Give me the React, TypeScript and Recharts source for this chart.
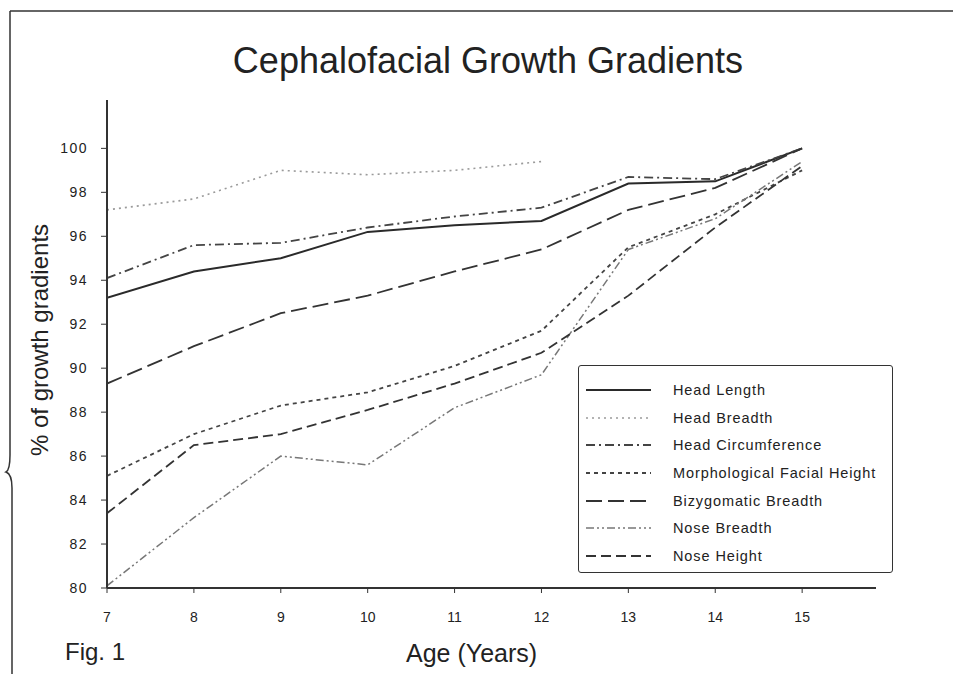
import React from 'react';
import { LineChart, Line, XAxis, YAxis, Legend } from 'recharts';

const ages = [7, 8, 9, 10, 11, 12, 13, 14, 15];
const yTicks = [80, 82, 84, 86, 88, 90, 92, 94, 96, 98, 100];

const headLength = [93.2, 94.4, 95.0, 96.2, 96.5, 96.7, 98.4, 98.5, 100];
const headBreadth = [97.2, 97.7, 99.0, 98.8, 99.0, 99.4, null, null, null];
const headCircumference = [94.1, 95.6, 95.7, 96.4, 96.9, 97.3, 98.7, 98.6, 100];
const morphFacialHeight = [85.1, 87.0, 88.3, 88.9, 90.1, 91.7, 95.5, 97.0, 99.0];
const bizygomaticBreadth = [89.3, 91.0, 92.5, 93.3, 94.4, 95.4, 97.2, 98.2, 100];
const noseBreadth = [80.1, 83.2, 86.0, 85.6, 88.2, 89.7, 95.4, 96.8, 99.4];
const noseHeight = [83.4, 86.5, 87.0, 88.1, 89.3, 90.7, 93.3, 96.4, 99.2];

const seriesNames = [
  'Head Length',
  'Head Breadth',
  'Head Circumference',
  'Morphological Facial Height',
  'Bizygomatic Breadth',
  'Nose Breadth',
  'Nose Height',
];
const seriesKeys = ['hl', 'hb', 'hc', 'mfh', 'bb', 'nb', 'nh'];
const seriesValues = [
  headLength,
  headBreadth,
  headCircumference,
  morphFacialHeight,
  bizygomaticBreadth,
  noseBreadth,
  noseHeight,
];

const seriesStyles = [
  { stroke: '#2a2a2a', dash: undefined as string | undefined, width: 2 },
  { stroke: '#9a9a9a', dash: '2 4', width: 1.6 },
  { stroke: '#444', dash: '9 4 2 4', width: 1.8 },
  { stroke: '#444', dash: '4 4', width: 1.8 },
  { stroke: '#333', dash: '16 6', width: 1.8 },
  { stroke: '#777', dash: '8 3 2 3 2 3', width: 1.5 },
  { stroke: '#333', dash: '10 5', width: 1.8 },
];

const data = ages.map((age, i) => {
  const row: Record<string, number | null> = { age };
  seriesKeys.forEach((k, j) => {
    row[k] = seriesValues[j][i];
  });
  return row;
});

const FONT = '"Liberation Sans", Arial, Helvetica, sans-serif';

const renderLegend = () => (
  <div
    style={{
      width: 315,
      height: 208,
      boxSizing: 'border-box',
      border: '1.5px solid #333',
      borderRadius: 3,
      background: '#fff',
      padding: '10px 0 0 6px',
      fontFamily: FONT,
    }}
  >
    {seriesNames.map((name, i) => (
      <div key={name} style={{ display: 'flex', alignItems: 'center', height: 27.7 }}>
        <svg width={68} height={10} style={{ marginRight: 20 }}>
          <line
            x1={1}
            y1={5}
            x2={66}
            y2={5}
            stroke={seriesStyles[i].stroke}
            strokeWidth={seriesStyles[i].width}
            strokeDasharray={seriesStyles[i].dash}
          />
        </svg>
        <span style={{ fontSize: 14.5, letterSpacing: 0.9, color: '#222' }}>{name}</span>
      </div>
    ))}
  </div>
);

export default function App() {
  return (
    <div style={{ position: 'relative', width: 953, height: 674, background: '#fff', fontFamily: FONT }}>
      <style>{'body{margin:0}'}</style>
      <svg width={953} height={674} style={{ position: 'absolute', left: 0, top: 0 }}>
        <line x1={10} y1={11} x2={953} y2={11} stroke="#333" strokeWidth={1.5} />
        <path d="M10 11 L10 455 Q10 470 6 472 Q12 474 12 488 L12 674" fill="none" stroke="#333" strokeWidth={1.5} />
      </svg>
      <div
        style={{
          position: 'absolute',
          left: 0,
          width: 976,
          top: 41,
          textAlign: 'center',
          fontSize: 36,
          lineHeight: '40px',
          color: '#222',
        }}
      >
        Cephalofacial Growth Gradients
      </div>
      <div style={{ position: 'absolute', left: 0, top: 0 }}>
        <LineChart width={953} height={674} data={data} margin={{ top: 100, right: 77, bottom: 56, left: 47 }}>
          <XAxis
            dataKey="age"
            type="number"
            domain={[7, 15.85]}
            ticks={ages}
            allowDataOverflow
            height={30}
            tickSize={5}
            tickMargin={19}
            axisLine={{ stroke: '#333', strokeWidth: 2 }}
            tickLine={{ stroke: '#333' }}
            tick={{ fontSize: 14, fill: '#222', fontFamily: FONT }}
          />
          <YAxis
            type="number"
            domain={[80, 102.2]}
            ticks={yTicks}
            allowDataOverflow
            width={60}
            tickSize={6}
            tickMargin={13}
            axisLine={{ stroke: '#333', strokeWidth: 2 }}
            tickLine={{ stroke: '#333' }}
            tick={{ fontSize: 14, fill: '#222', fontFamily: FONT, letterSpacing: 1.5 }}
          />
          {seriesKeys.map((k, i) => (
            <Line
              key={k}
              dataKey={k}
              name={seriesNames[i]}
              type="linear"
              stroke={seriesStyles[i].stroke}
              strokeWidth={seriesStyles[i].width}
              strokeDasharray={seriesStyles[i].dash}
              dot={false}
              activeDot={false}
              isAnimationActive={false}
            />
          ))}
          <Legend
            layout="vertical"
            align="center"
            verticalAlign="middle"
            content={renderLegend}
            wrapperStyle={{ position: 'absolute', left: 578, top: 365, width: 315, height: 208 }}
          />
        </LineChart>
      </div>
      <div
        style={{
          position: 'absolute',
          left: 40,
          top: 340,
          transform: 'translate(-50%, -50%) rotate(-90deg)',
          fontSize: 24,
          color: '#222',
          whiteSpace: 'nowrap',
        }}
      >
        % of growth gradients
      </div>
      <div style={{ position: 'absolute', left: 65, top: 638, fontSize: 24, color: '#222' }}>Fig. 1</div>
      <div style={{ position: 'absolute', left: 406, top: 639, fontSize: 25, color: '#222' }}>Age (Years)</div>
    </div>
  );
}
